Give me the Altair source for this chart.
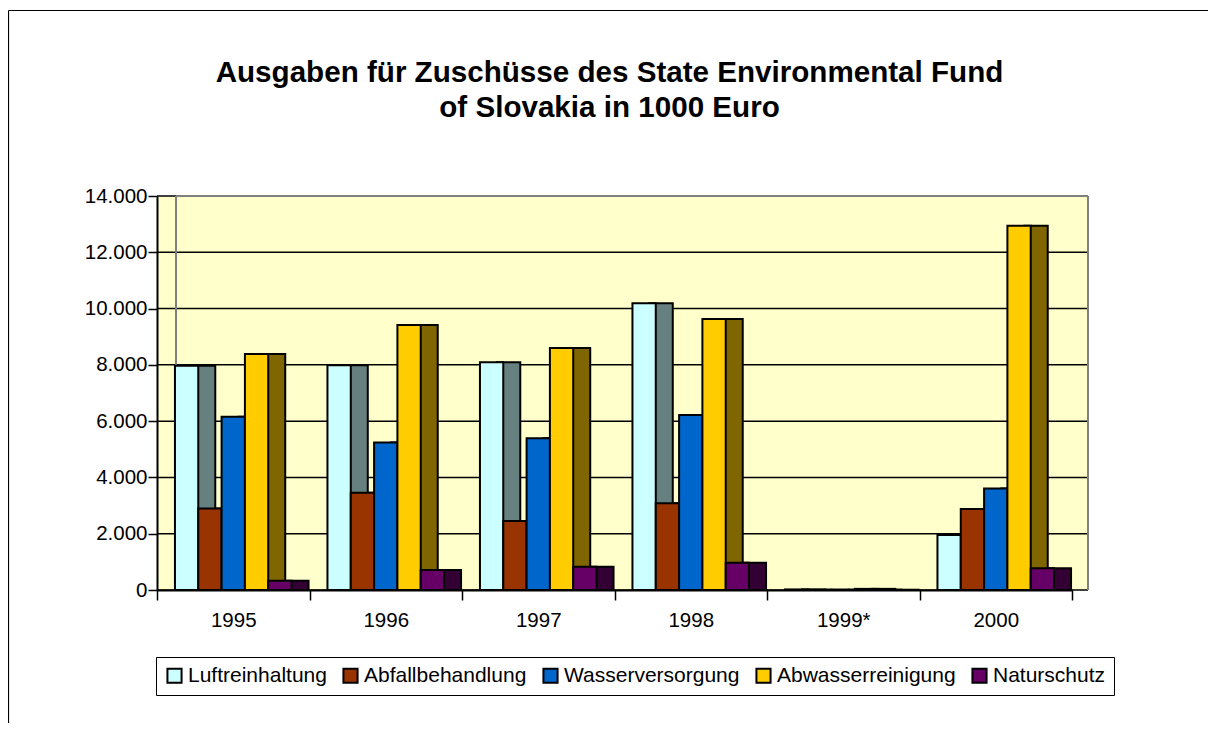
import altair as alt
import pandas as pd

# ---- data ----
years = ["1995", "1996", "1997", "1998", "1999*", "2000"]
series = ["Luftreinhaltung", "Abfallbehandlung", "Wasserversorgung",
          "Abwasserreinigung", "Naturschutz"]
luft = [7970, 7990, 8090, 10190, 20, 1950]
abfall = [2900, 3460, 2450, 3080, 10, 2880]
wasser = [6160, 5240, 5390, 6220, 10, 3610]
abwasser = [8390, 9420, 8600, 9630, 40, 12940]
natur = [330, 710, 830, 970, 10, 770]
y_ticks = [0, 2000, 4000, 6000, 8000, 10000, 12000, 14000]

# ---- styles ----
front_colors = ["#CCFFFF", "#993300", "#0066CC", "#FFCC00", "#660066"]
side_colors = ["#668080", "#4D1A00", "#003366", "#806600", "#330033"]
FONT = "Liberation Sans"
W, H = 915, 394
BAND = W / len(years)
DEPTH = 17

rows = []
for s, vals in zip(series, [luft, abfall, wasser, abwasser, natur]):
    for yr, v in zip(years, vals):
        rows.append({"Jahr": yr, "Bereich": s, "Wert": v})
df = pd.DataFrame(rows)
grid_df = pd.DataFrame({"Wert": y_ticks})
one = pd.DataFrame({"d": [0]})

y_scale = alt.Scale(domain=[0, 14000], nice=False)
y_axis = alt.Axis(values=y_ticks, grid=False, labelFontSize=20.5,
                  labelFont=FONT, labelColor="black", tickSize=9,
                  tickColor="black", tickWidth=1.5, domainColor="black",
                  domainWidth=2, labelPadding=1, zindex=1,
                  format=",d", labelExpr="replace(datum.label, ',', '.')")
x_enc = alt.X("Jahr:N", sort=years, title=None,
              scale=alt.Scale(paddingInner=0, paddingOuter=0),
              axis=alt.Axis(tickBand="extent", labelAngle=0, labelFontSize=20.5,
                            labelFont=FONT, labelColor="black", tickSize=10,
                            tickColor="black", tickWidth=1.5, domainColor="black",
                            domainWidth=2, labelPadding=10, zindex=1))
y_enc = alt.Y("Wert:Q", title=None, scale=y_scale, axis=y_axis)

# back wall (decoration)
wall = alt.Chart(one).mark_rect(fill="#FFFFCC", stroke=None).encode(
    x=alt.value(0), x2=alt.value(931), y=alt.value(0), y2=alt.value(H))
wall_top = alt.Chart(one).mark_rule(color="#808080", strokeWidth=2).encode(
    x=alt.value(19), x2=alt.value(931), y=alt.value(0))
wall_left = alt.Chart(one).mark_rule(color="#808080", strokeWidth=2).encode(
    x=alt.value(19), y=alt.value(0), y2=alt.value(H))
wall_right = alt.Chart(one).mark_rule(color="#808080", strokeWidth=2).encode(
    x=alt.value(931), y=alt.value(0), y2=alt.value(H))
grid = alt.Chart(grid_df).mark_rule(color="black", strokeWidth=1.5).encode(
    y=y_enc, x=alt.value(0), x2=alt.value(931))

# outer chart frame
frame_l = alt.Chart(one).mark_rule(color="black", strokeWidth=1.2).encode(
    x=alt.value(-148.5), y=alt.value(-185.5), y2=alt.value(H + 140))
frame_t = alt.Chart(one).mark_rule(color="black", strokeWidth=1.2).encode(
    x=alt.value(-148.5), x2=alt.value(W + 140), y=alt.value(-185.5))

# side faces: same bars, offset sideways by the depth
side = alt.Chart(df).mark_bar(stroke="black", strokeWidth=2).encode(
    x=x_enc,
    xOffset=alt.XOffset("Bereich:N", sort=series,
                        scale=alt.Scale(paddingInner=0, paddingOuter=0.77,
                                        range=[DEPTH, DEPTH + BAND])),
    y=y_enc,
    color=alt.Color("Bereich:N", sort=series,
                    scale=alt.Scale(domain=series, range=side_colors), legend=None))

front = alt.Chart(df).mark_bar(stroke="black", strokeWidth=2).encode(
    x=x_enc,
    xOffset=alt.XOffset("Bereich:N", sort=series,
                        scale=alt.Scale(paddingInner=0, paddingOuter=0.77,
                                        range=[0, BAND])),
    y=y_enc,
    color=alt.Color("Bereich:N", sort=series,
                    scale=alt.Scale(domain=series, range=front_colors),
                    legend=alt.Legend(title=None, orient="none", legendX=-1,
                                      legendY=461, direction="horizontal",
                                      columns=5, symbolType="square",
                                      symbolSize=200, symbolStrokeColor="black",
                                      symbolStrokeWidth=2, labelFontSize=21,
                                      labelFont=FONT, labelColor="black",
                                      labelLimit=400, labelOffset=3,
                                      columnPadding=12, padding=8,
                                      strokeColor="black", fillColor="white")))

# the title sits above the group bounds, which start at the outer frame
# line; a negative offset brings it back down into place
chart = alt.layer(wall, grid, wall_top, wall_left, wall_right, frame_l, frame_t,
                  side, front).resolve_scale(
    color="independent", xOffset="independent").properties(
    width=W, height=H,
    autosize=alt.AutoSizeParams(type="none"),
    padding={"left": 149, "top": 188, "right": 136, "bottom": 133},
    title=alt.Title(["Ausgaben für Zuschüsse des State Environmental Fund",
                     "of Slovakia in 1000 Euro"],
                    fontSize=29.6, font=FONT, fontWeight="bold", color="black",
                    lineHeight=35, anchor="middle", dx=-5, offset=-143,
                    baseline="bottom", frame="group"),
).configure_view(stroke=None).configure(background="white")

chart.save("out.html", embed_options={"renderer": "svg", "actions": False})
